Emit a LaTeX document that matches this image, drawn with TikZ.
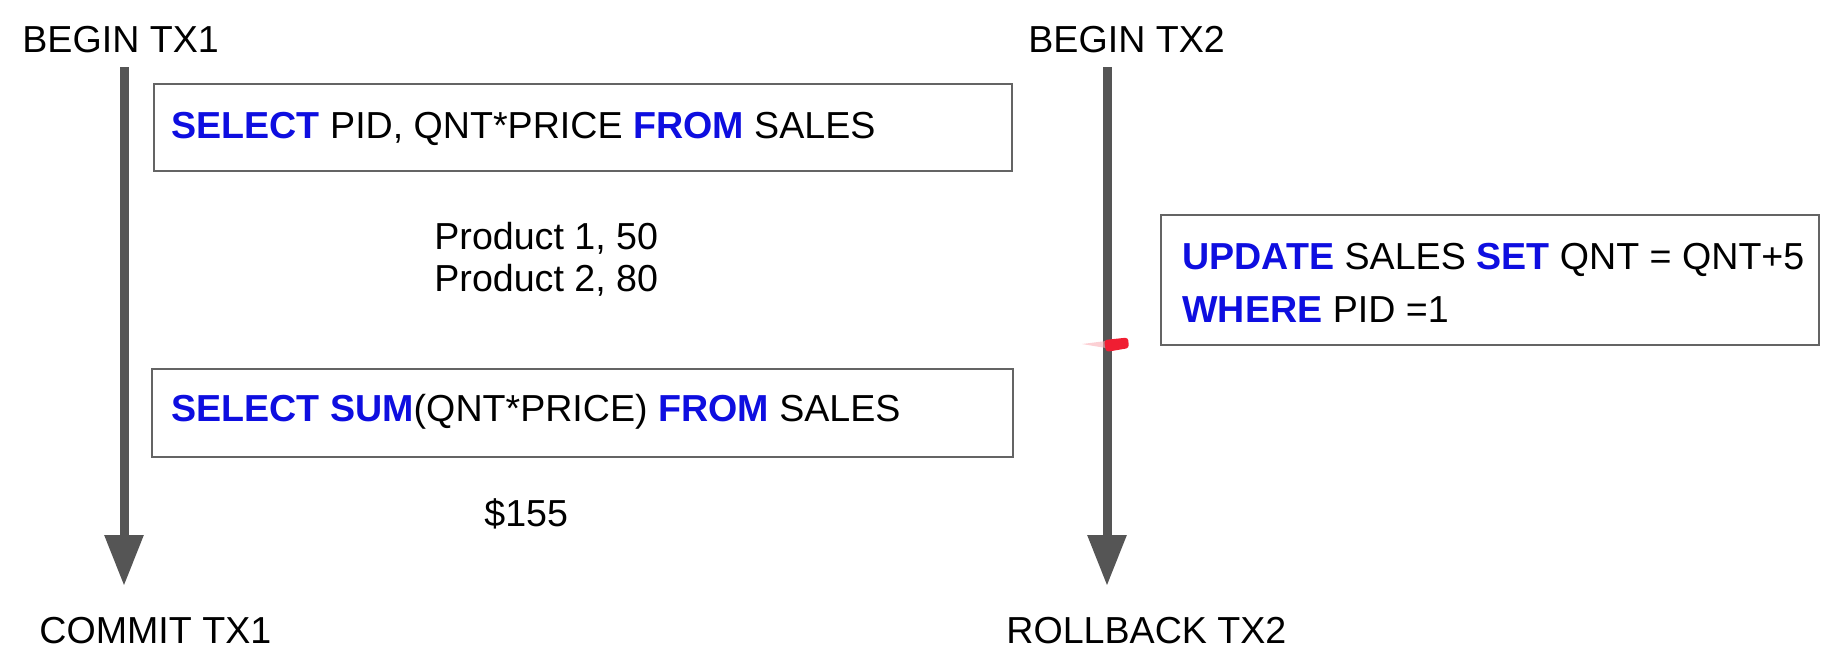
\documentclass[tikz,border=0pt]{standalone}
\usepackage{fontspec}
\setmainfont{Liberation Sans}
\usetikzlibrary{arrows.meta}
\definecolor{kwblue}{RGB}{14,14,224}
\definecolor{axisgray}{RGB}{85,85,85}
\definecolor{framegray}{RGB}{100,100,100}
\definecolor{markred}{RGB}{240,30,50}
\newcommand{\sqlkw}[1]{\textcolor{kwblue}{\textbf{#1}}}
\begin{document}
\begin{tikzpicture}[x=0.5pt,y=-0.5pt,
  lbl/.style={inner sep=0pt, anchor=base west, font=\fontsize{18.8}{22}\selectfont},
  timeline/.style={line width=4.5pt, draw=axisgray, -{Triangle[width=18.5pt,length=25.5pt]}},
  sqlbox/.style={draw=framegray, line width=1pt, anchor=north west, inner sep=0pt}]
\useasboundingbox (0,0) rectangle (1824,650);

% transaction labels
\node[lbl] (begin1) at (22,52) {BEGIN TX1};
\node[lbl] (begin2) at (1028,52) {BEGIN TX2};
\node[lbl] (commit1) at (39,643) {COMMIT TX1};
\node[lbl] (rollback2) at (1006,643) {ROLLBACK TX2};

% time lines
\coordinate (t1top) at (124,67);
\coordinate (t1end) at (124,586);
\coordinate (t2top) at (1107,67);
\coordinate (t2end) at (1107,586);
\draw[timeline] (t1top) -- (t1end);
\draw[timeline] (t2top) -- (t2end);

% boxes
\node[sqlbox, minimum width=429pt, minimum height=43.5pt] (q1) at (153,83) {};
\node[lbl] (q1text) at (171,138) {\sqlkw{SELECT} PID, QNT*PRICE \sqlkw{FROM} SALES};

\node[lbl] (res1a) at (434,249) {Product 1, 50};
\node[lbl] (res1b) at (434,291) {Product 2, 80};

\node[sqlbox, minimum width=430.5pt, minimum height=44pt] (q2) at (151,368) {};
\node[lbl] (q2text) at (171,421) {\sqlkw{SELECT} \sqlkw{SUM}(QNT*PRICE) \sqlkw{FROM} SALES};

\node[lbl] (res2) at (484,526) {\$155};

\node[sqlbox, minimum width=329pt, minimum height=65pt] (upd) at (1160,214) {};
\node[lbl] (updA) at (1182,269) {\sqlkw{UPDATE} SALES \sqlkw{SET} QNT = QNT+5};
\node[lbl] (updB) at (1182,322) {\sqlkw{WHERE} PID =1};

% red pointer mark
\fill[markred!35, opacity=0.6] (1082,344) -- (1106,341) -- (1106,348) -- cycle;
\fill[markred, rounded corners=1.5pt] (1104,340) -- (1128,337.5) -- (1129,348) -- (1106,352) -- cycle;
\end{tikzpicture}
\end{document}
